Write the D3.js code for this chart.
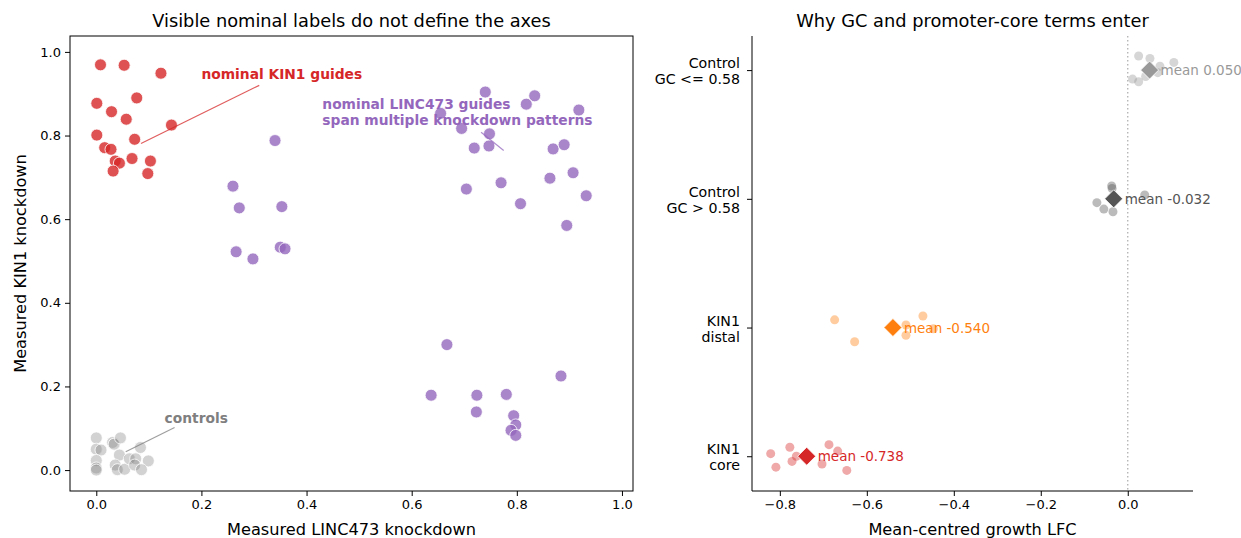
<!DOCTYPE html>
<html>
<head>
<meta charset='utf-8'>
<title>Nominal labels vs measured knockdown</title>
<script src='https://cdn.jsdelivr.net/npm/d3@7'></script>
<style>
  body { margin: 0; background: #fff; }
  text { font-family: 'DejaVu Sans', sans-serif; }
</style>
</head>
<body>
<svg width='1241' height='538'></svg>
<script>
// left panel: measured knockdown per guide [LINC473, KIN1]
const kin1Guides = [
  [0.008, 0.969], [0.053, 0.968], [0.123, 0.949], [0.001, 0.877], [0.077, 0.890],
  [0.029, 0.857], [0.057, 0.839], [0.143, 0.825], [0.001, 0.801], [0.073, 0.791],
  [0.016, 0.771], [0.028, 0.767], [0.036, 0.739], [0.044, 0.734], [0.068, 0.745],
  [0.103, 0.739], [0.032, 0.715], [0.098, 0.709]
]
const linc473Guides = [
  [0.340, 0.788], [0.260, 0.679], [0.272, 0.627], [0.353, 0.630], [0.266, 0.522],
  [0.298, 0.505], [0.350, 0.533], [0.359, 0.529],
  [0.740, 0.904], [0.834, 0.895], [0.818, 0.875], [0.655, 0.853], [0.918, 0.861],
  [0.695, 0.817], [0.748, 0.804], [0.719, 0.770], [0.747, 0.775], [0.869, 0.768],
  [0.890, 0.778], [0.863, 0.698], [0.907, 0.711], [0.704, 0.672], [0.770, 0.687],
  [0.932, 0.656], [0.807, 0.637], [0.895, 0.585],
  [0.667, 0.300], [0.884, 0.225], [0.637, 0.179], [0.724, 0.179], [0.780, 0.181],
  [0.723, 0.139], [0.794, 0.130], [0.798, 0.108], [0.789, 0.095], [0.798, 0.083]
]
const controlGuides = [
  [0.000, 0.077], [0.000, 0.050], [0.009, 0.048], [0.000, 0.023], [0.000, 0.005],
  [0.000, 0.000], [0.031, 0.066], [0.034, 0.062], [0.046, 0.077], [0.044, 0.036],
  [0.036, 0.012], [0.040, 0.001], [0.054, 0.002], [0.063, 0.027], [0.075, 0.027],
  [0.073, 0.012], [0.084, 0.054], [0.099, 0.022], [0.086, 0.001]
]
const leftTicks = [0, 0.2, 0.4, 0.6, 0.8, 1.0]

// right panel: groups, per-guide LFC and vertical jitter
const groups = ['KIN1\ncore', 'KIN1\ndistal', 'Control\nGC > 0.58', 'Control\nGC <= 0.58']
const groupColors = ['#d62728', '#ff7f0e', '#555555', '#999999']
const groupLfc = [
  [-0.821, -0.809, -0.777, -0.772, -0.687, -0.667, -0.703, -0.646, -0.762],
  [-0.674, -0.628, -0.471, -0.510, -0.510, -0.447],
  [-0.037, -0.036, 0.039, -0.071, -0.055, -0.034],
  [0.025, 0.051, 0.106, 0.074, 0.069, 0.041, 0.011, 0.025]
]
const groupJitter = [
  [0.02, -0.085, 0.07, -0.04, 0.09, 0.04, -0.06, -0.11, 0.0],
  [0.06, -0.11, 0.09, 0.02, -0.06, -0.01],
  [0.10, 0.08, 0.03, -0.03, -0.08, -0.10],
  [0.11, 0.09, 0.06, 0.03, -0.02, -0.05, -0.07, -0.09]
]
const rightTicks = [-0.8, -0.6, -0.4, -0.2, 0.0]

const svg = d3.select('svg')
const fmtMinus = d => d3.format('.1f')(d).replace('-', '\u2212')

// ---------- left panel ----------
const L = { left: 70, right: 633, top: 36, bottom: 491 }
const x1 = d3.scaleLinear().domain([-0.05, 1.021]).range([L.left, L.right])
const y1 = d3.scaleLinear().domain([-0.05, 1.038]).range([L.bottom, L.top])

const g1 = svg.append('g')
g1.append('g').attr('transform', `translate(0,${L.bottom})`)
  .call(d3.axisBottom(x1).tickValues(leftTicks).tickFormat(d3.format('.1f')).tickSize(5).tickPadding(4))
g1.append('g').attr('transform', `translate(${L.left},0)`)
  .call(d3.axisLeft(y1).tickValues(leftTicks).tickFormat(d3.format('.1f')).tickSize(5).tickPadding(4))
g1.selectAll('.domain').remove()
g1.selectAll('.tick line').attr('stroke', '#000')
g1.selectAll('.tick text').attr('font-size', 13).attr('fill', '#000')
g1.append('rect').attr('x', L.left).attr('y', L.top)
  .attr('width', L.right - L.left).attr('height', L.bottom - L.top)
  .attr('fill', 'none').attr('stroke', '#000').attr('stroke-width', 1)

function scatter(data, color, opacity) {
  g1.append('g').selectAll('circle').data(data).join('circle')
    .attr('cx', d => x1(d[0])).attr('cy', d => y1(d[1])).attr('r', 6)
    .attr('fill', color).attr('fill-opacity', opacity)
    .attr('stroke', '#fff').attr('stroke-width', 0.8)
}
scatter(controlGuides, '#7f7f7f', 0.35)
scatter(kin1Guides, '#d62728', 0.8)
scatter(linc473Guides, '#9467bd', 0.8)

// annotations
function note(lines, tx, ty, ax, ay, lx, ly, color) {
  g1.append('line').attr('x1', x1(ax)).attr('y1', y1(ay)).attr('x2', x1(lx)).attr('y2', y1(ly))
    .attr('stroke', color).attr('stroke-opacity', 0.75).attr('stroke-width', 1.2)
  const t = g1.append('text').attr('x', x1(tx)).attr('y', y1(ty))
    .attr('fill', color).attr('font-size', 13.8).attr('font-weight', 'bold')
  lines.forEach((s, i) => t.append('tspan').attr('x', x1(tx)).attr('dy', i ? 16 : 0).text(s))
}
note(['nominal KIN1 guides'], 0.20, 0.935, 0.085, 0.781, 0.31, 0.92, '#d62728')
note(['nominal LINC473 guides', 'span multiple knockdown patterns'], 0.43, 0.863, 0.732, 0.808, 0.775, 0.764, '#9467bd')
note(['controls'], 0.13, 0.113, 0.056, 0.044, 0.149, 0.102, '#7f7f7f')

svg.append('text').attr('x', (L.left + L.right) / 2).attr('y', 27).attr('text-anchor', 'middle')
  .attr('font-size', 17.8).text('Visible nominal labels do not define the axes')
svg.append('text').attr('x', (L.left + L.right) / 2).attr('y', 535).attr('text-anchor', 'middle')
  .attr('font-size', 16.2).text('Measured LINC473 knockdown')
svg.append('text').attr('transform', `translate(26,${(L.top + L.bottom) / 2}) rotate(-90)`)
  .attr('text-anchor', 'middle').attr('font-size', 16.2).text('Measured KIN1 knockdown')

// ---------- right panel ----------
const R = { left: 752, right: 1193, top: 36, bottom: 491 }
const x2 = d3.scaleLinear().domain([-0.864, 0.150]).range([R.left, R.right])
const y2 = d3.scaleLinear().domain([-0.27, 3.265]).range([R.bottom, R.top])

const g2 = svg.append('g')
g2.append('g').attr('transform', `translate(0,${R.bottom})`)
  .call(d3.axisBottom(x2).tickValues(rightTicks).tickFormat(fmtMinus).tickSize(5).tickPadding(4))
g2.append('g').attr('transform', `translate(${R.left},0)`)
  .call(d3.axisLeft(y2).tickValues(d3.range(groups.length)).tickFormat('').tickSize(5))
g2.selectAll('.domain').remove()
g2.selectAll('.tick line').attr('stroke', '#000')
g2.selectAll('.tick text').attr('font-size', 13).attr('fill', '#000')
g2.append('line').attr('x1', R.left).attr('x2', R.left).attr('y1', R.top).attr('y2', R.bottom).attr('stroke', '#000')
g2.append('line').attr('x1', R.left).attr('x2', R.right).attr('y1', R.bottom).attr('y2', R.bottom).attr('stroke', '#000')

// group labels
groups.forEach((lab, i) => {
  const t = g2.append('text').attr('text-anchor', 'end').attr('font-size', 14.2)
    .attr('x', R.left - 12).attr('y', y2(i) - 2)
  lab.split('\n').forEach((s, k) => t.append('tspan').attr('x', R.left - 12).attr('dy', k ? 16 : 0).text(s))
})

// zero reference
g2.append('line').attr('x1', x2(0)).attr('x2', x2(0)).attr('y1', R.top).attr('y2', R.bottom)
  .attr('stroke', '#aaa').attr('stroke-width', 1.2).attr('stroke-dasharray', '1.5,2.5')

groups.forEach((lab, i) => {
  const pts = groupLfc[i].map((v, k) => [v, i + groupJitter[i][k]])
  g2.append('g').selectAll('circle').data(pts).join('circle')
    .attr('cx', d => x2(d[0])).attr('cy', d => y2(d[1])).attr('r', 4.5)
    .attr('fill', groupColors[i]).attr('fill-opacity', 0.4)
  const m = d3.mean(groupLfc[i])
  const s = 9
  g2.append('path')
    .attr('d', `M0,${-s}L${s},0L0,${s}L${-s},0Z`)
    .attr('transform', `translate(${x2(m)},${y2(i)})`)
    .attr('fill', groupColors[i]).attr('stroke', '#fff').attr('stroke-width', 0.8)
  g2.append('text').attr('x', x2(m) + 11).attr('y', y2(i) + 5)
    .attr('font-size', 13.5).attr('fill', groupColors[i])
    .text('mean ' + m.toFixed(3))
})

svg.append('text').attr('x', (R.left + R.right) / 2).attr('y', 27).attr('text-anchor', 'middle')
  .attr('font-size', 17.8).text('Why GC and promoter-core terms enter')
svg.append('text').attr('x', (R.left + R.right) / 2).attr('y', 535).attr('text-anchor', 'middle')
  .attr('font-size', 16.2).text('Mean-centred growth LFC')
</script>
</body>
</html>
